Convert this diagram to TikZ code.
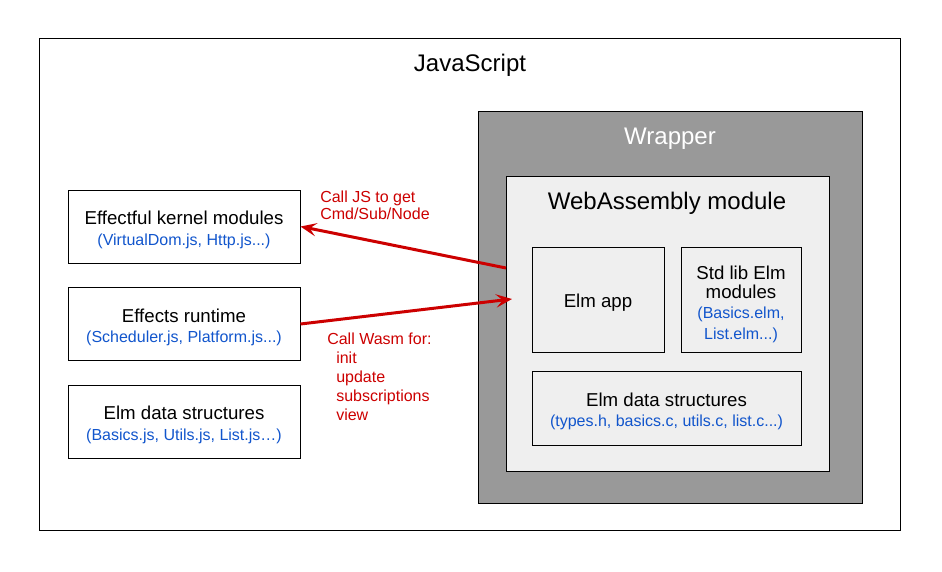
\documentclass[tikz,border=0pt]{standalone}
\usepackage{fontspec}
\setmainfont{Liberation Sans}
\usetikzlibrary{arrows.meta}
\definecolor{wrapgray}{HTML}{999999}
\definecolor{wasmgray}{HTML}{EFEFEF}
\definecolor{fileblue}{HTML}{1155CC}
\definecolor{callred}{HTML}{CC0000}
\newcommand{\filelist}[1]{{\color{fileblue}\fontsize{12}{15}\selectfont #1}}

\begin{document}
\begin{tikzpicture}[x=0.75pt, y=-0.75pt,
        box/.style={draw, line width=0.75pt, rectangle, inner sep=0pt},
        boxtext/.style={align=center, inner sep=0pt, yshift=-2.5pt, font=\fontsize{14}{16.5}\selectfont},
        title/.style={yshift=-2pt, font=\fontsize{18}{21}\selectfont},
        callarrow/.style={callred, line width=2.25pt, -{Stealth[length=12pt, width=10pt, inset=5pt]}},
        note/.style={callred, align=left, anchor=north west, inner sep=0pt}]
        \useasboundingbox (0,0) rectangle (942,571);
        \node [box, minimum width=645.75pt, minimum height=369pt] (js) at (469.5,284) {};
        \node [title] (jstitle) at (470,63) {JavaScript};
        \node [box, fill=wrapgray, minimum width=288pt, minimum height=294pt] (wrapper) at (670,307) {};
        \node [title, white] (wraptitle) at (670,136) {Wrapper};
        \node [box, fill=wasmgray, minimum width=242.25pt, minimum height=221.25pt] (wasm) at (667.5,323.5) {};
        \node [title] (wasmtitle) at (667,201) {WebAssembly module};
        % boxes inside the module
        \node [box, minimum width=99pt, minimum height=78.75pt] (app) at (598,299.5) {};
        \node [boxtext] (apptext) at (app) {Elm app};
        \node [box, minimum width=90pt, minimum height=78.75pt] (stdlib) at (741,299.5) {};
        \node [boxtext, yshift=-1.5pt] (stdlibtext) at (stdlib)
            {Std lib Elm\\[-2.5pt]modules\\[-1.5pt]\filelist{(Basics.elm,}\\[-0.5pt]\filelist{List.elm...)}};
        \node [box, minimum width=201.75pt, minimum height=55.5pt] (wasmdata) at (666.5,408) {};
        \node [boxtext] (wasmdatatext) at (wasmdata)
            {Elm data structures\\[-1pt]\filelist{(types.h, basics.c, utils.c, list.c...)}};
        % boxes on the JavaScript side
        \node [box, minimum width=174pt, minimum height=54.75pt] (kernel) at (184,226.5) {};
        \node [boxtext] (kerneltext) at (kernel)
            {Effectful kernel modules\\[-1pt]\filelist{(VirtualDom.js, Http.js...)}};
        \node [box, minimum width=174pt, minimum height=54.75pt] (runtime) at (184,324) {};
        \node [boxtext] (runtimetext) at (runtime)
            {Effects runtime\\[-1pt]\filelist{(Scheduler.js, Platform.js...)}};
        \node [box, minimum width=174pt, minimum height=54.75pt] (jsdata) at (184,421.5) {};
        \node [boxtext] (jsdatatext) at (jsdata)
            {Elm data structures\\[-1pt]\filelist{(Basics.js, Utils.js, List.js\ldots)}};
        % calls between the two sides
        \coordinate (callout) at (506,268);
        \coordinate (callin) at (512,299);
        \draw [callarrow] (callout) -- (kernel.east);
        \draw [callarrow] (runtime.east) -- (callin);
        \node [note, font=\fontsize{12}{12.75}\selectfont] (getnote) at (320,190.5)
            {Call JS to get\\Cmd/Sub/Node};
        \node [note, font=\fontsize{12}{14.25}\selectfont] (wasmnote) at (327,333)
            {Call Wasm for:\\\hspace*{6.75pt}init\\\hspace*{6.75pt}update\\\hspace*{6.75pt}subscriptions\\\hspace*{6.75pt}view};
\end{tikzpicture}
\end{document}
